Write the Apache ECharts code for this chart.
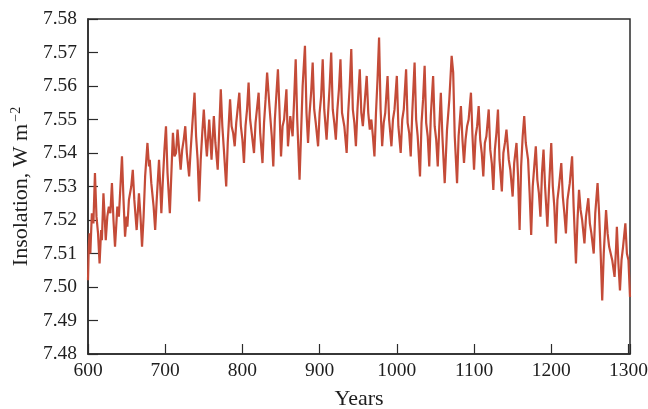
<!DOCTYPE html>
<html>
<head>
<meta charset="utf-8">
<script src="https://cdn.jsdelivr.net/npm/echarts@6/dist/echarts.min.js"></script>
<style>
  html, body { margin: 0; padding: 0; background: #fff; }
  #chart { width: 648px; height: 409px; }
</style>
</head>
<body>
<div id="chart"></div>
<script>
// Reconstructed solar insolation, 600–1300 AD
// years: calendar year; insolation: W m^-2
const years = [
  600, 601, 602, 603, 605, 607, 609, 611, 613, 615,
  617, 618, 620, 622, 623, 625, 627, 629, 631, 633,
  635, 637, 638, 640, 642, 644, 646, 648, 650, 651,
  653, 656, 658, 660, 663, 665, 666, 668, 670, 672,
  674, 677, 679, 680, 682, 685, 687, 689, 692, 694,
  695, 697, 699, 701, 703, 706, 708, 710, 712, 714,
  716, 718, 720, 722, 724, 726, 728, 731, 733, 735,
  738, 740, 742, 744, 746, 748, 750, 752, 754, 757,
  760, 763, 765, 768, 770, 772, 774, 776, 779, 781,
  784, 786, 788, 790, 792, 796, 798, 800, 802, 804,
  806, 808, 810, 812, 815, 817, 821, 823, 826, 828,
  830, 832, 835, 838, 840, 842, 846, 848, 850, 852,
  854, 857, 859, 862, 865, 867, 869, 871, 874, 876,
  878, 881, 883, 885, 887, 889, 891, 893, 895, 898,
  900, 902, 904, 906, 909, 911, 913, 915, 917, 919,
  921, 923, 925, 927, 929, 932, 935, 937, 939, 941,
  943, 945, 947, 949, 952, 954, 956, 958, 961, 963,
  965, 967, 969, 971, 973, 975, 977, 979, 981, 983,
  985, 988, 990, 993, 995, 997, 1000, 1002, 1005, 1007,
  1009, 1012, 1014, 1016, 1018, 1020, 1023, 1025, 1027, 1030,
  1032, 1034, 1036, 1038, 1040, 1042, 1044, 1047, 1049, 1051,
  1053, 1055, 1057, 1059, 1062, 1065, 1068, 1071, 1073, 1075,
  1078, 1080, 1083, 1085, 1087, 1089, 1091, 1093, 1096, 1098,
  1100, 1102, 1104, 1106, 1108, 1110, 1112, 1114, 1116, 1119,
  1121, 1123, 1125, 1127, 1129, 1131, 1133, 1136, 1138, 1140,
  1142, 1145, 1147, 1150, 1152, 1155, 1157, 1159, 1161, 1163,
  1165, 1167, 1170, 1172, 1174, 1176, 1178, 1180, 1182, 1184,
  1186, 1188, 1190, 1192, 1195, 1197, 1200, 1202, 1204, 1206,
  1208, 1210, 1213, 1215, 1217, 1219, 1221, 1224, 1227, 1229,
  1232, 1234, 1236, 1238, 1240, 1243, 1245, 1248, 1250, 1252,
  1255, 1257, 1260, 1262, 1264, 1266, 1268, 1271, 1273, 1275,
  1277, 1279, 1282, 1284, 1285, 1287, 1289, 1291, 1293, 1296,
  1298, 1300, 1302
];
const insolation = [
  7.502, 7.512, 7.516, 7.510, 7.522, 7.519, 7.534, 7.521, 7.516, 7.507,
  7.517, 7.514, 7.528, 7.519, 7.514, 7.521, 7.524, 7.522, 7.531, 7.520,
  7.512, 7.520, 7.524, 7.521, 7.530, 7.539, 7.526, 7.515, 7.521, 7.518,
  7.526, 7.530, 7.535, 7.526, 7.517, 7.524, 7.528, 7.521, 7.512, 7.521,
  7.533, 7.543, 7.536, 7.538, 7.531, 7.524, 7.517, 7.526, 7.538, 7.528,
  7.522, 7.532, 7.541, 7.548, 7.534, 7.522, 7.534, 7.546, 7.539, 7.540,
  7.547, 7.541, 7.535, 7.541, 7.544, 7.548, 7.540, 7.533, 7.541, 7.548,
  7.558, 7.545, 7.538, 7.5255, 7.538, 7.546, 7.553, 7.545, 7.539, 7.550,
  7.538, 7.551, 7.543, 7.535, 7.547, 7.559, 7.548, 7.541, 7.530, 7.543,
  7.556, 7.548, 7.546, 7.542, 7.549, 7.558, 7.548, 7.544, 7.537, 7.548,
  7.553, 7.561, 7.550, 7.546, 7.540, 7.549, 7.558, 7.546, 7.537, 7.549,
  7.556, 7.564, 7.554, 7.545, 7.536, 7.550, 7.565, 7.553, 7.539, 7.548,
  7.550, 7.559, 7.542, 7.551, 7.545, 7.556, 7.568, 7.550, 7.532, 7.546,
  7.560, 7.572, 7.552, 7.543, 7.552, 7.558, 7.567, 7.553, 7.549, 7.542,
  7.552, 7.557, 7.568, 7.553, 7.544, 7.552, 7.560, 7.570, 7.553, 7.549,
  7.544, 7.553, 7.559, 7.568, 7.552, 7.548, 7.540, 7.552, 7.560, 7.571,
  7.553, 7.549, 7.542, 7.553, 7.565, 7.552, 7.548, 7.554, 7.563, 7.552,
  7.547, 7.550, 7.545, 7.539, 7.552, 7.562, 7.5745, 7.553, 7.542, 7.549,
  7.552, 7.563, 7.550, 7.542, 7.550, 7.553, 7.563, 7.548, 7.540, 7.550,
  7.553, 7.565, 7.549, 7.546, 7.539, 7.552, 7.567, 7.550, 7.545, 7.533,
  7.549, 7.556, 7.566, 7.549, 7.545, 7.536, 7.551, 7.563, 7.548, 7.544,
  7.536, 7.548, 7.558, 7.545, 7.531, 7.547, 7.556, 7.569, 7.564, 7.545,
  7.531, 7.545, 7.554, 7.544, 7.537, 7.544, 7.548, 7.550, 7.558, 7.545,
  7.535, 7.545, 7.548, 7.554, 7.544, 7.540, 7.533, 7.543, 7.545, 7.553,
  7.541, 7.537, 7.529, 7.541, 7.546, 7.553, 7.538, 7.5285, 7.540, 7.543,
  7.547, 7.538, 7.535, 7.527, 7.537, 7.543, 7.533, 7.517, 7.536, 7.545,
  7.551, 7.543, 7.538, 7.528, 7.5155, 7.530, 7.536, 7.542, 7.532, 7.528,
  7.521, 7.534, 7.541, 7.530, 7.518, 7.529, 7.543, 7.530, 7.524, 7.513,
  7.526, 7.530, 7.537, 7.527, 7.522, 7.516, 7.526, 7.531, 7.539, 7.524,
  7.507, 7.520, 7.529, 7.523, 7.520, 7.513, 7.521, 7.5265, 7.519, 7.516,
  7.510, 7.522, 7.531, 7.522, 7.510, 7.496, 7.510, 7.523, 7.516, 7.512,
  7.510, 7.508, 7.503, 7.512, 7.518, 7.507, 7.499, 7.508, 7.512, 7.519,
  7.510, 7.508, 7.497
];
const xTicks = [600, 700, 800, 900, 1000, 1100, 1200, 1300];

const points = years.map((y, i) => [y, insolation[i]]);

const chart = echarts.init(document.getElementById('chart'), null, { renderer: 'canvas' });
const axisColor = '#2b2b2b';
const textColor = '#1e1e1e';
const font = 'Liberation Serif';

chart.setOption({
  animation: false,
  backgroundColor: '#ffffff',
  grid: {
    left: 88, right: 18, top: 19, bottom: 55,
    containLabel: false,
    outerBoundsMode: 'none',
    show: true, borderColor: axisColor, borderWidth: 1.5, backgroundColor: 'transparent'
  },
  xAxis: {
    type: 'value',
    min: 600, max: 1302, interval: 100,
    name: 'Years',
    nameLocation: 'middle',
    nameGap: 34,
    nameTextStyle: { fontFamily: font, fontSize: 22, color: textColor },
    axisLine: { show: true, onZero: false, lineStyle: { color: axisColor, width: 1.5 } },
    axisTick: { show: true, inside: true, length: 10, lineStyle: { color: axisColor, width: 1.2 } },
    axisLabel: {
      fontFamily: font, fontSize: 19.5, color: textColor, margin: 7,
      formatter: v => (xTicks.indexOf(v) >= 0 ? String(v) : '')
    },
    splitLine: { show: false }
  },
  yAxis: {
    type: 'value',
    min: 7.48, max: 7.58, interval: 0.01,
    name: '{t|Insolation, W m}{s|−2}',
    nameLocation: 'middle',
    nameGap: 53,
    nameRotate: 90,
    nameTextStyle: {
      fontFamily: font, fontSize: 22, color: textColor,
      rich: {
        t: { fontFamily: font, fontSize: 22, color: textColor },
        s: { fontFamily: font, fontSize: 14, color: textColor, padding: [0, 0, 10, 2] }
      }
    },
    axisLine: { show: true, lineStyle: { color: axisColor, width: 1.5 } },
    axisTick: { show: true, inside: true, length: 10, lineStyle: { color: axisColor, width: 1.2 } },
    axisLabel: {
      fontFamily: font, fontSize: 19.5, color: textColor, margin: 11,
      formatter: v => v.toFixed(2)
    },
    splitLine: { show: false }
  },
  series: [{
    type: 'line',
    data: points,
    showSymbol: false,
    symbol: 'none',
    lineStyle: { color: '#c44b38', width: 2.2 },
    clip: true
  }]
});
</script>
</body>
</html>
